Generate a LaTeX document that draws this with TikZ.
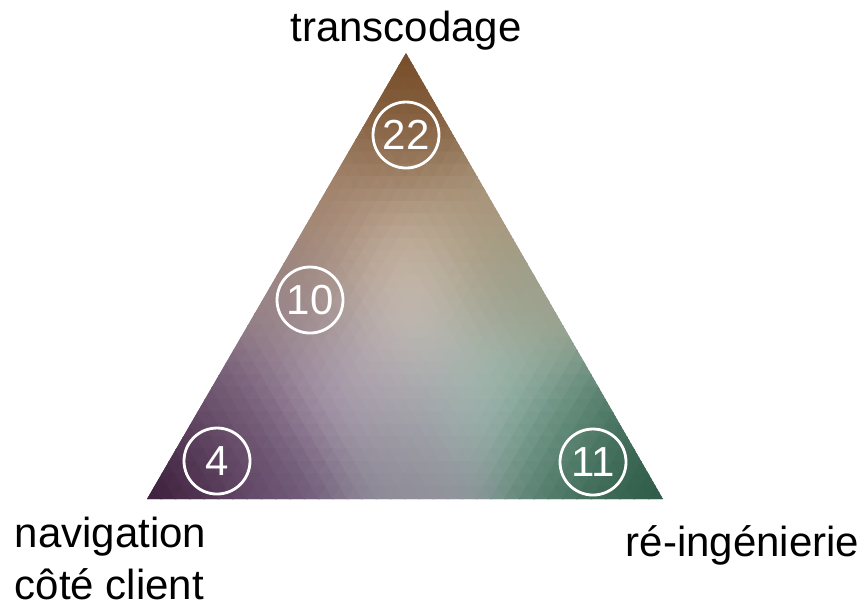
\documentclass[tikz,border=0pt]{standalone}
\usepackage{fontspec}
\setmainfont{Liberation Sans}
\newcommand\NN{36}
\newcommand\addpt[5]{%
  \pgfmathsetmacro\wW{exp(-((\cx-#1)*(\cx-#1)+(\cy-#2)*(\cy-#2))/0.45)}%
  \pgfmathsetmacro\wS{\wS+\wW}%
  \pgfmathsetmacro\rS{\rS+\wW*(#3/255)}%
  \pgfmathsetmacro\gS{\gS+\wW*(#4/255)}%
  \pgfmathsetmacro\bS{\bS+\wW*(#5/255)}%
}
\newcommand\ptlist{%
  \addpt{4.06}{0.62}{115}{72}{34}%
  \addpt{4.06}{1.35}{140}{106}{76}%
  \addpt{4.02}{2.55}{208}{192}{176}%
  \addpt{4.10}{3.35}{194}{187}{182}%
  \addpt{4.10}{4.15}{162}{158}{168}%
  \addpt{3.00}{3.00}{152}{132}{132}%
  \addpt{3.30}{3.90}{175}{160}{180}%
  \addpt{4.85}{3.95}{160}{190}{180}%
  \addpt{4.05}{4.80}{140}{139}{150}%
  \addpt{2.80}{4.90}{108}{86}{118}%
  \addpt{2.15}{4.60}{88}{58}{88}%
  \addpt{1.58}{4.92}{52}{24}{52}%
  \addpt{5.60}{4.40}{105}{145}{128}%
  \addpt{6.05}{4.75}{62}{104}{86}%
  \addpt{6.55}{4.92}{38}{86}{66}%
  \addpt{5.15}{2.95}{155}{160}{140}%
  \addpt{4.75}{2.20}{168}{148}{120}%
  \addpt{3.40}{2.10}{160}{128}{104}%
  \addpt{2.45}{4.10}{122}{98}{124}%
}
% #1,#2 barycentric centre (row a, col b); #3 #4 #5 vertex names
\newcommand\celltri[5]{%
  \pgfmathsetmacro\cx{4.06+(5.16*(#2)-2.59*(#1))/\NN}%
  \pgfmathsetmacro\cy{0.53+4.46*(#1)/\NN}%
  \def\wS{0.00001}\def\rS{0}\def\gS{0}\def\bS{0}%
  \ptlist
  \pgfmathsetmacro\cR{min(1,\rS/\wS)}%
  \pgfmathsetmacro\cG{min(1,\gS/\wS)}%
  \pgfmathsetmacro\cB{min(1,\bS/\wS)}%
  \definecolor{cc}{rgb}{\cR,\cG,\cB}%
  \filldraw[draw=cc, fill=cc, line width=0.45pt, line join=round] (#3) -- (#4) -- (#5) -- cycle;%
}
\begin{document}
\begin{tikzpicture}[x=1cm, y=-1cm,
  lbl/.style={font=\fontsize{11.95}{14.6}\selectfont, inner sep=0pt},
  num/.style={circle, draw=white, line width=0.8pt, minimum size=0.66cm,
    inner sep=0pt, text=white, font=\fontsize{11.95}{14}\selectfont}]
\useasboundingbox (0,0) rectangle (8.64,6.05);
\coordinate (T) at (4.06,0.53);
\coordinate (L) at (1.47,4.99);
\coordinate (R) at (6.63,4.99);
% lattice
\foreach \i in {0,...,\NN}{
  \foreach \j in {0,...,\i}{
    \coordinate (p-\i-\j) at ({4.06+(5.16*\j-2.59*\i)/\NN},{0.53+4.46*\i/\NN});
  }
}
\begin{scope}
  \clip (T) -- (L) -- (R) -- cycle;
  \pgfmathtruncatemacro\NM{\NN-1}
  \foreach \i in {0,...,\NM}{
    \pgfmathtruncatemacro\ip{\i+1}
    \foreach \j in {0,...,\i}{
      \pgfmathtruncatemacro\jp{\j+1}
      \celltri{\i+2/3}{\j+1/3}{p-\i-\j}{p-\ip-\j}{p-\ip-\jp}
      \ifnum\j<\i
        \celltri{\i+1/3}{\j+2/3}{p-\i-\j}{p-\i-\jp}{p-\ip-\jp}
      \fi
    }
  }
\end{scope}
% circles
\node[num] (n22) at (4.06,1.35) {22};
\node[num] (n10) at (3.10,3.00) {10};
\node[num] (n4)  at (2.17,4.61) {4};
\node[num] (n11) at (5.93,4.62) {11};
% labels
\node[lbl, anchor=base] (ltop) at (4.06,0.41) {transcodage};
\node[lbl, anchor=base east] (lright) at (8.60,5.56) {ré-ingénierie};
\node[lbl, anchor=base west] (lleft1) at (0.14,5.47) {navigation};
\node[lbl, anchor=base west] (lleft2) at (0.14,5.99) {côté client};
\end{tikzpicture}
\end{document}
